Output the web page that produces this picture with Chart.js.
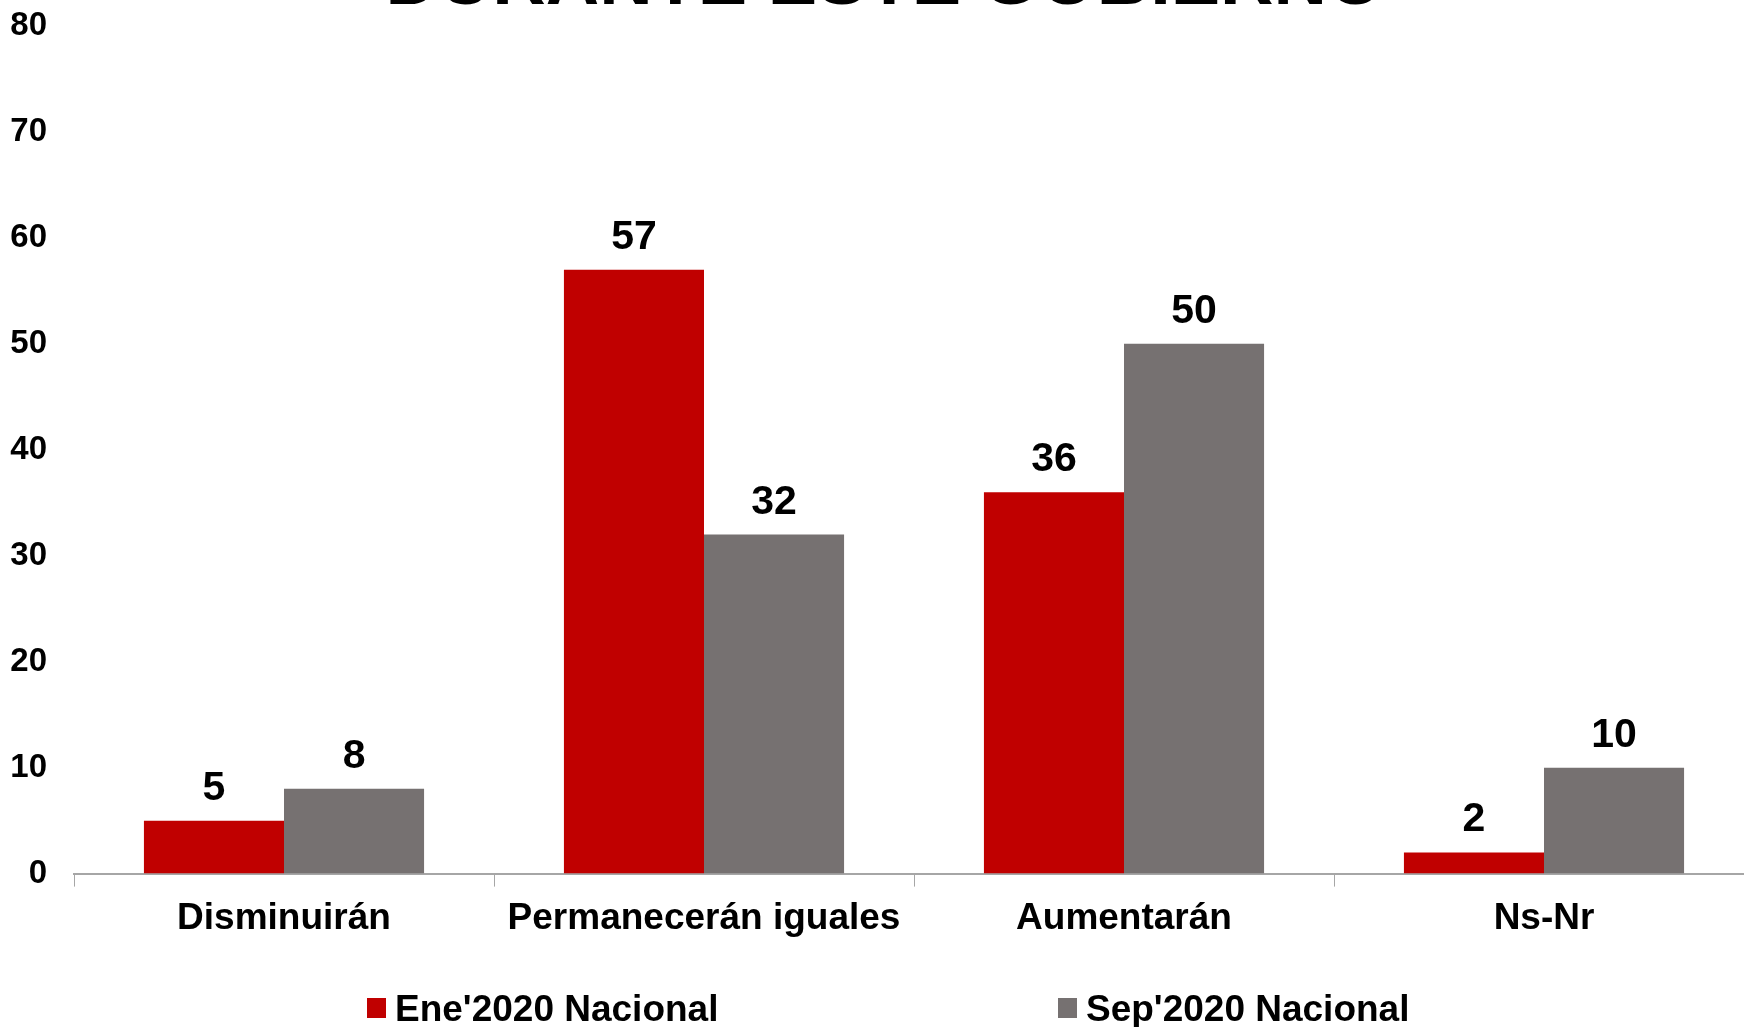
<!DOCTYPE html>
<html>
<head>
<meta charset="utf-8">
<script src="https://cdn.jsdelivr.net/npm/chart.js@4"></script>
<style>
  html, body { margin: 0; padding: 0; background: #fff; overflow: hidden; }
  #wrap { position: relative; width: 1754px; height: 1027px; }
</style>
</head>
<body>
<div id="wrap"><canvas id="chart"></canvas></div>
<script>
const categories = ['Disminuirán', 'Permanecerán iguales', 'Aumentarán', 'Ns-Nr']
const eneValues = [5, 57, 36, 2]
const sepValues = [8, 32, 50, 10]
const seriesNames = ["Ene'2020 Nacional", "Sep'2020 Nacional"]
const seriesColors = ['#C00000', '#767171']
const titleText = 'DURANTE ESTE GOBIERNO'

const FONT = 'Arial, "Liberation Sans", sans-serif'

// values above the bars
const valueLabels = {
  id: 'valueLabels',
  afterDatasetsDraw(chart) {
    const ctx = chart.ctx
    ctx.save()
    ctx.font = 'bold 41px ' + FONT
    ctx.fillStyle = '#000'
    ctx.textAlign = 'center'
    ctx.textBaseline = 'alphabetic'
    chart.data.datasets.forEach((ds, i) => {
      chart.getDatasetMeta(i).data.forEach((bar, j) => {
        ctx.fillText(ds.data[j], bar.x, bar.y - 21)
      })
    })
    ctx.restore()
  }
}

// title (mostly cut off at the top) and the legend at the bottom
const extras = {
  id: 'extras',
  afterDraw(chart) {
    const ctx = chart.ctx
    ctx.save()
    ctx.fillStyle = '#000'
    ctx.font = 'bold 74px ' + FONT
    ctx.textAlign = 'center'
    ctx.textBaseline = 'alphabetic'
    ctx.fillText(titleText, 885, 4)

    const items = [{ x: 367 }, { x: 1058 }]
    ctx.font = 'bold 37px ' + FONT
    ctx.textAlign = 'left'
    items.forEach((it, i) => {
      ctx.fillStyle = seriesColors[i]
      ctx.fillRect(it.x, 998, 19, 20)
      ctx.fillStyle = '#000'
      ctx.fillText(seriesNames[i], it.x + 28, 1021)
    })
    ctx.restore()
  }
}

new Chart(document.getElementById('chart'), {
  type: 'bar',
  data: {
    labels: categories,
    datasets: [
      { label: seriesNames[0], data: eneValues, backgroundColor: seriesColors[0] },
      { label: seriesNames[1], data: sepValues, backgroundColor: seriesColors[1] }
    ]
  },
  options: {
    responsive: true,
    maintainAspectRatio: false,
    animation: false,
    layout: { padding: { left: 0, top: 26, right: 0, bottom: 76 } },
    datasets: { bar: { categoryPercentage: 0.667, barPercentage: 1.0 } },
    plugins: {
      legend: { display: false },
      title: { display: false },
      tooltip: { enabled: false }
    },
    scales: {
      x: {
        grid: { display: true, drawOnChartArea: false, offset: true, tickLength: 13, color: '#a6a6a6' },
        border: { color: '#a6a6a6', width: 2 },
        ticks: { font: { family: FONT, size: 37, weight: 'bold' }, color: '#000', padding: 10, maxRotation: 0 }
      },
      y: {
        min: 0,
        max: 80,
        grid: { display: false, drawTicks: false, tickLength: 0 },
        border: { display: false },
        afterFit(scale) {
          scale.width = 74
          scale.paddingTop = 0
          scale.paddingBottom = 0
        },
        ticks: { stepSize: 10, font: { family: FONT, size: 33, weight: 'bold' }, color: '#000', padding: 27 }
      }
    }
  },
  plugins: [valueLabels, extras]
})
</script>
</body>
</html>
